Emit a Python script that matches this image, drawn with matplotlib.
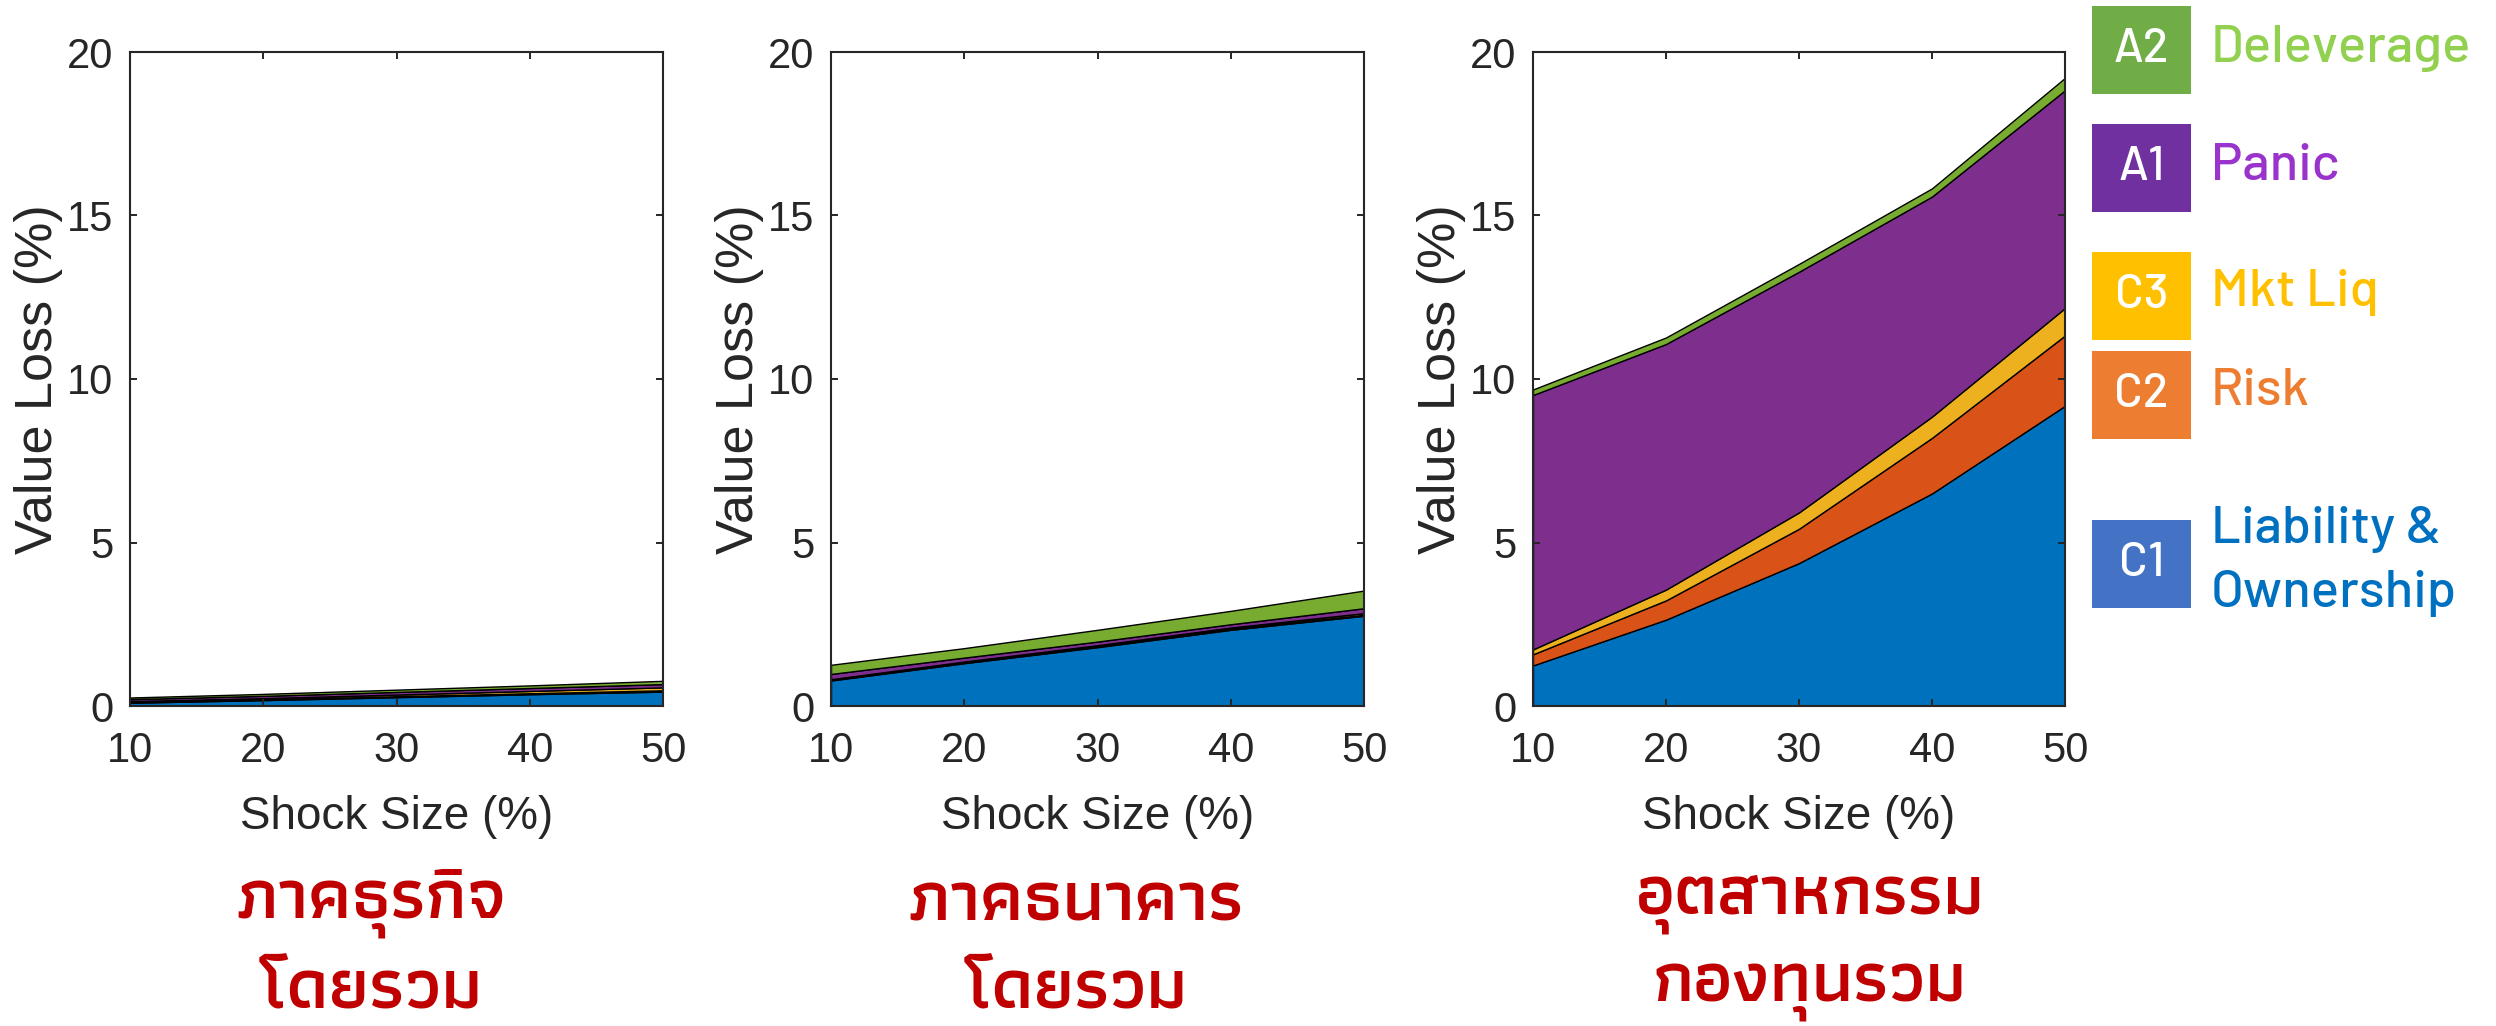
import matplotlib
matplotlib.use("Agg")
import matplotlib.pyplot as plt
from matplotlib import font_manager as fm
from matplotlib.patches import Rectangle

# ---- data -------------------------------------------------------------
shock = [10, 20, 30, 40, 50]

# panel 1: corporate sector overall
corp_c1 = [0.10, 0.18, 0.27, 0.36, 0.44]
corp_c2 = [0.02, 0.02, 0.03, 0.03, 0.04]
corp_c3 = [0.03, 0.04, 0.05, 0.07, 0.09]
corp_a1 = [0.06, 0.07, 0.08, 0.09, 0.10]
corp_a2 = [0.05, 0.06, 0.07, 0.08, 0.10]

# panel 2: banking sector overall
bank_c1 = [0.78, 1.31, 1.80, 2.33, 2.76]
bank_c2 = [0.02, 0.02, 0.03, 0.03, 0.03]
bank_c3 = [0.02, 0.03, 0.03, 0.04, 0.05]
bank_a1 = [0.16, 0.12, 0.11, 0.10, 0.15]
bank_a2 = [0.28, 0.29, 0.36, 0.41, 0.54]

# panel 3: mutual fund industry
fund_c1 = [1.24, 2.64, 4.37, 6.50, 9.18]
fund_c2 = [0.34, 0.59, 1.05, 1.70, 2.15]
fund_c3 = [0.15, 0.33, 0.50, 0.65, 0.84]
fund_a1 = [7.78, 7.51, 7.36, 6.73, 6.66]
fund_a2 = [0.17, 0.20, 0.24, 0.25, 0.38]

panel_titles = [["ภาคธุรกิจ", "โดยรวม"],
                ["ภาคธนาคาร", "โดยรวม"],
                ["อุตสาหกรรม", "กองทุนรวม"]]

legend_codes = ["A2", "A1", "C3", "C2", "C1"]
legend_names = ["Deleverage", "Panic", "Mkt Liq", "Risk", "Liability &\nOwnership"]

x_ticks = [10, 20, 30, 40, 50]
y_ticks = [0, 5, 10, 15, 20]

# ---- styling ----------------------------------------------------------
area_colors = ["#0072BD", "#D95319", "#EDB120", "#7E2F8E", "#77AC30"]
box_colors = ["#70AD47", "#7030A0", "#FFC000", "#ED7D31", "#4472C4"]
name_colors = ["#92D050", "#9933CC", "#FFC000", "#ED7D31", "#0070C0"]
title_red = "#C00000"
axis_gray = "#262626"

installed = {f.name for f in fm.fontManager.ttflist}


def pick(*cands):
    for c in cands:
        if c in installed:
            return c
    return "DejaVu Sans"


axis_font = pick("Arimo", "Liberation Sans", "DejaVu Sans")
legend_font = pick("Barlow", "Roboto", "DejaVu Sans")
thai_font = pick("Athiti", "Anuphan", "Bai Jamjuree", "Loma")

plt.rcParams["font.family"] = [axis_font, "DejaVu Sans"]

W, H = 2496, 1026
fig = plt.figure(figsize=(W / 100, H / 100), dpi=100)

# axes boxes in pixels: (left, top, right, bottom)
ax_px = [(130, 52, 663, 706), (831, 52, 1364, 706), (1533, 52, 2065, 706)]
panels = [
    [corp_c1, corp_c2, corp_c3, corp_a1, corp_a2],
    [bank_c1, bank_c2, bank_c3, bank_a1, bank_a2],
    [fund_c1, fund_c2, fund_c3, fund_a1, fund_a2],
]
title_cx = [371, 1076, 1810]

for (l, t, r, b), series, cx, title in zip(ax_px, panels, title_cx, panel_titles):
    ax = fig.add_axes([l / W, 1 - b / H, (r - l) / W, (b - t) / H])
    ax.stackplot(shock, *series, colors=area_colors,
                 edgecolor="black", linewidth=1.0)
    ax.set_xlim(10, 50)
    ax.set_ylim(0, 20)
    ax.set_xticks(x_ticks)
    ax.set_yticks(y_ticks)
    ax.tick_params(direction="in", top=True, right=True, length=5,
                   width=1.4, color=axis_gray, labelcolor=axis_gray,
                   labelsize=30)
    ax.tick_params(axis="x", pad=18)
    ax.tick_params(axis="y", pad=12)
    for s in ax.spines.values():
        s.set_linewidth(1.5)
        s.set_color(axis_gray)
    ax.set_xlabel("Shock Size (%)", fontsize=33, color=axis_gray, labelpad=17)
    ax.set_ylabel("Value Loss (%)", fontsize=37.5, color=axis_gray, labelpad=3)

    for line, cy in zip(title, (903, 991)):
        fig.text(cx / W, 1 - cy / H, line, ha="center", va="center",
                 fontsize=52, fontweight="semibold", color=title_red,
                 family=[thai_font, "DejaVu Sans"])

# ---- colour key on the right -----------------------------------------
box_tops = [6, 124, 252, 351, 520]
box_h = 88
box_l, box_w = 2092, 99
name_baselines = [62, 180, 306, 405, 543]
line_step = 64
for code, name, bc, nc, top, base in zip(legend_codes, legend_names, box_colors,
                                         name_colors, box_tops, name_baselines):
    fig.patches.append(Rectangle((box_l / W, 1 - (top + box_h) / H), box_w / W,
                                 box_h / H, transform=fig.transFigure,
                                 facecolor=bc, edgecolor="none"))
    fig.text((box_l + box_w / 2) / W, 1 - (top + 56) / H, code,
             ha="center", va="baseline", color="white", fontsize=34,
             family=[legend_font, "DejaVu Sans"], fontweight="medium")
    for i, part in enumerate(name.split("\n")):
        fig.text(2211 / W, 1 - (base + i * line_step) / H, part,
                 ha="left", va="baseline", color=nc, fontsize=38,
                 family=[legend_font, "DejaVu Sans"], fontweight="medium")

fig.savefig("out.png", dpi=100)
